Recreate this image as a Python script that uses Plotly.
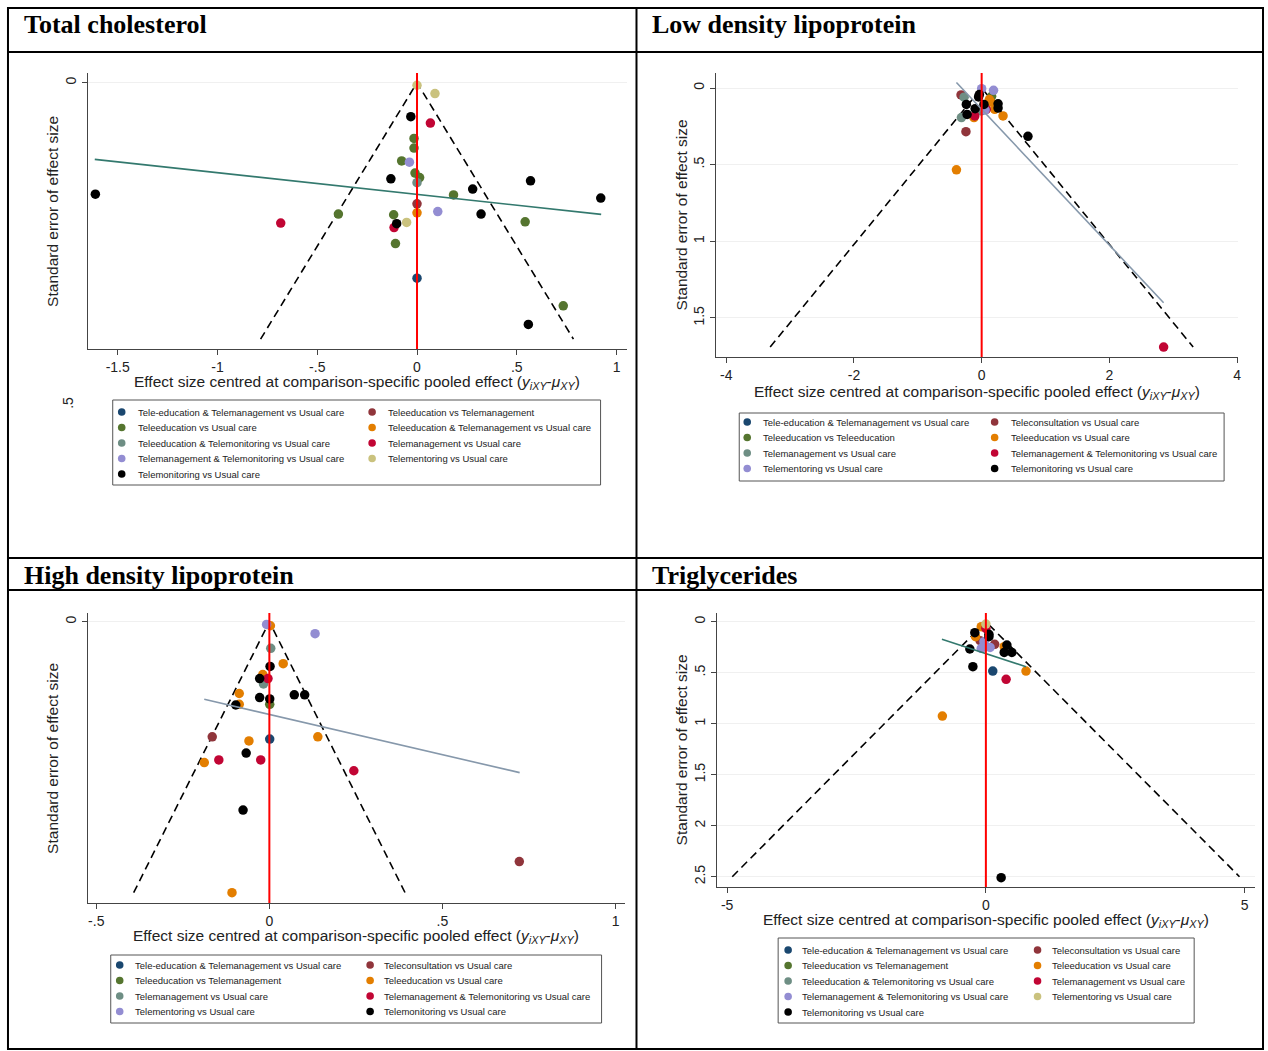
import plotly.graph_objects as go

W, H = 1268, 1051

# ---------------- DATA ----------------
panel_titles = ["Total cholesterol", "Low density lipoprotein",
                "High density lipoprotein", "Triglycerides"]

# Total cholesterol
tc_groups = ["Tele-education & Telemanagement vs Usual care", "Teleeducation vs Telemanagement",
             "Teleeducation vs Usual care", "Teleeducation & Telemanagement vs Usual care",
             "Teleeducation & Telemonitoring vs Usual care", "Telemanagement vs Usual care",
             "Telemanagement & Telemonitoring vs Usual care", "Telementoring vs Usual care",
             "Telemonitoring vs Usual care"]
tc_x = [0.0, 0.090, -0.031, 0.067, -0.015, -0.015, -0.077, -0.038, -0.010, 0.013, -0.131, 0.0,
        0.569, 0.279, 0.183, -1.612, 0.921, 0.0, -0.394, -0.117, 0.0, 0.104, 0.321, -0.683,
        -0.052, -0.102, -0.115, 0.542, -0.108, 0.0, 0.733, 0.558]
tc_se = [0.004, 0.017, 0.053, 0.063, 0.087, 0.102, 0.122, 0.124, 0.141, 0.148, 0.150, 0.156,
         0.153, 0.166, 0.175, 0.174, 0.180, 0.189, 0.205, 0.206, 0.203, 0.201, 0.205, 0.219,
         0.218, 0.220, 0.226, 0.217, 0.251, 0.305, 0.348, 0.377]
tc_g = [7, 7, 8, 5, 2, 2, 2, 6, 2, 2, 8, 4,
        8, 8, 2, 8, 8, 1, 2, 2, 3, 6, 8, 5,
        7, 8, 5, 2, 2, 0, 2, 8]
tc_reg_x = [-1.615, 0.923]
tc_reg_se = [0.1196, 0.2054]
tc_funnel_se = 0.40

# Low density lipoprotein
ldl_groups = ["Tele-education & Telemanagement vs Usual care", "Teleconsultation vs Usual care",
              "Teleeducation vs Teleeducation", "Teleeducation vs Usual care",
              "Telemanagement vs Usual care", "Telemanagement & Telemonitoring vs Usual care",
              "Telementoring vs Usual care", "Telemonitoring vs Usual care"]
ldl_x = [0.0, 0.186, -0.323, -0.275, 0.156, -0.036, -0.048, 0.120, 0.144, -0.240, 0.036, 0.257,
         0.257, -0.102, -0.006, 0.054, 0.072, 0.204, -0.228, -0.108, -0.120, -0.317, 0.335,
         -0.246, 0.725, -0.395, 2.850]
ldl_se = [0.004, 0.015, 0.045, 0.060, 0.054, 0.043, 0.058, 0.075, 0.092, 0.107, 0.107, 0.103,
          0.131, 0.135, 0.150, 0.144, 0.139, 0.139, 0.172, 0.182, 0.193, 0.193, 0.182,
          0.285, 0.315, 0.534, 1.690]
ldl_g = [6, 6, 1, 4, 2, 7, 7, 3, 3, 7, 7, 7,
         7, 7, 4, 6, 5, 3, 7, 5, 3, 4, 3,
         1, 7, 3, 5]
ldl_reg_x = [-0.395, 2.85]
ldl_reg_se = [-0.036, 1.401]
ldl_funnel_se = 1.69

# High density lipoprotein
hdl_groups = ["Tele-education & Telemanagement vs Usual care", "Teleconsultation vs Usual care",
              "Teleeducation vs Telemanagement", "Teleeducation vs Usual care",
              "Telemanagement vs Usual care", "Telemanagement & Telemonitoring vs Usual care",
              "Telementoring vs Usual care", "Telemonitoring vs Usual care"]
hdl_x = [-0.008, 0.003, 0.132, 0.004, 0.040, 0.002, -0.019, -0.028, -0.004, -0.017, -0.087, 0.072,
         0.102, -0.028, 0.001, 0.001, -0.087, -0.097, -0.165, 0.140, 0.001, -0.059, -0.067,
         -0.188, -0.146, -0.025, 0.244, -0.076, 0.722, -0.108]
hdl_se = [0.002, 0.003, 0.0089, 0.0197, 0.031, 0.033, 0.039, 0.042, 0.042, 0.046, 0.053, 0.054,
          0.054, 0.056, 0.057, 0.061, 0.061, 0.0615, 0.085, 0.085, 0.0866, 0.088, 0.097,
          0.104, 0.102, 0.102, 0.110, 0.139, 0.177, 0.200]
hdl_g = [6, 3, 6, 4, 3, 7, 3, 7, 5, 4, 3, 7,
         7, 7, 7, 2, 3, 7, 1, 3, 0, 3, 7,
         3, 5, 5, 5, 7, 1, 3]
hdl_reg_x = [-0.188, 0.723]
hdl_reg_se = [0.0573, 0.1114]
hdl_funnel_se = 0.20

# Triglycerides
tg_groups = ["Tele-education & Telemanagement vs Usual care", "Teleconsultation vs Usual care",
             "Teleeducation vs Telemanagement", "Teleeducation vs Usual care",
             "Teleeducation & Telemonitoring vs Usual care", "Telemanagement vs Usual care",
             "Telemanagement & Telemonitoring vs Usual care", "Telementoring vs Usual care",
             "Telemonitoring vs Usual care"]
tg_x = [0.0, -0.089, 0.0, -0.214, -0.199, 0.059, 0.059, -0.111, -0.037, 0.170, 0.354, 0.406,
        -0.089, 0.081, 0.0, -0.310, 0.354, 0.502, -0.251, 0.133, 0.775, 0.391, -0.841, 0.295]
tg_se = [0.023, 0.049, 0.065, 0.108, 0.147, 0.124, 0.147, 0.186, 0.196, 0.222, 0.245, 0.229,
         0.261, 0.252, 0.245, 0.268, 0.301, 0.301, 0.441, 0.484, 0.484, 0.565, 0.925, 2.510]
tg_g = [7, 3, 5, 8, 3, 8, 8, 1, 6, 1, 3, 8,
        6, 6, 2, 8, 8, 8, 8, 0, 3, 5, 3, 8]
tg_reg_x = [-0.849, 0.775]
tg_reg_se = [0.173, 0.441]
tg_funnel_se = 2.50

# tick labels
tc_xticks = [-1.5, -1, -0.5, 0, 0.5, 1]
tc_xlabels = ["-1.5", "-1", "-.5", "0", ".5", "1"]
tc_yticks = [0]
tc_ylabels = ["0"]
ldl_xticks = [-4, -2, 0, 2, 4]
ldl_xlabels = ["-4", "-2", "0", "2", "4"]
ldl_yticks = [0, 0.5, 1, 1.5]
ldl_ylabels = ["0", ".5", "1", "1.5"]
hdl_xticks = [-0.5, 0, 0.5, 1]
hdl_xlabels = ["-.5", "0", ".5", "1"]
hdl_yticks = [0]
hdl_ylabels = ["0"]
tg_xticks = [-5, 0, 5]
tg_xlabels = ["-5", "0", "5"]
tg_yticks = [0, 0.5, 1, 1.5, 2, 2.5]
tg_ylabels = ["0", ".5", "1", "1.5", "2", "2.5"]

# ---------------- STYLE ----------------
NAVY, MAROON, GREEN, ORANGE = "#1a476f", "#90353b", "#55752f", "#e37e00"
TEAL, CRAN, LAV, KHAKI, BLACK = "#6e8e84", "#c10534", "#938dd2", "#cac27e", "#000000"
tc_colors = [NAVY, MAROON, GREEN, ORANGE, TEAL, CRAN, LAV, KHAKI, BLACK]
ldl_colors = [NAVY, MAROON, GREEN, ORANGE, TEAL, CRAN, LAV, BLACK]
hdl_colors = ldl_colors
tg_colors = tc_colors

SANS = "Liberation Sans, Arial, sans-serif"
SERIF = "Liberation Serif, Times New Roman, serif"
TXT = "#222222"


def px(x):
    return x / W


def py(y):
    return 1 - y / H


panels = [
    dict(x=tc_x, se=tc_se, g=tc_g, groups=tc_groups, colors=tc_colors,
         reg_x=tc_reg_x, reg_se=tc_reg_se, fse=tc_funnel_se, regcol="#33796e",
         xdom=(88, 628), ydom=(73, 349), xr=(-1.65, 1.05), yr=(-0.0151, 0.4154),
         xt=(tc_xticks, tc_xlabels), yt=(tc_yticks, tc_ylabels),
         xtitle_y=382, ytitle_x=52,
         leg_box=(113, 400, 602, 485), leg_rows0=412, leg_cols=(122, 136, 373, 387)),
    dict(x=ldl_x, se=ldl_se, g=ldl_g, groups=ldl_groups, colors=ldl_colors,
         reg_x=ldl_reg_x, reg_se=ldl_reg_se, fse=ldl_funnel_se, regcol="#8698ab",
         xdom=(717.5, 1241), ydom=(73, 357), xr=(-4.164, 4.016), yr=(-0.098, 1.755),
         xt=(ldl_xticks, ldl_xlabels), yt=(ldl_yticks, ldl_ylabels),
         xtitle_y=393, ytitle_x=683,
         leg_box=(741, 413, 1227, 481), leg_rows0=422, leg_cols=(749, 763, 997, 1011)),
    dict(x=hdl_x, se=hdl_se, g=hdl_g, groups=hdl_groups, colors=hdl_colors,
         reg_x=hdl_reg_x, reg_se=hdl_reg_se, fse=hdl_funnel_se, regcol="#8698ab",
         xdom=(88, 626), ydom=(613, 903), xr=(-0.5245, 1.0259), yr=(-0.0064, 0.2076),
         xt=(hdl_xticks, hdl_xlabels), yt=(hdl_yticks, hdl_ylabels),
         xtitle_y=936, ytitle_x=52,
         leg_box=(111, 955, 603, 1023), leg_rows0=965, leg_cols=(120, 133, 371, 383)),
    dict(x=tg_x, se=tg_se, g=tg_g, groups=tg_groups, colors=tg_colors,
         reg_x=tg_reg_x, reg_se=tg_reg_se, fse=tg_funnel_se, regcol="#33796e",
         xdom=(718.6, 1258), ydom=(613, 887), xr=(-5.197, 5.2), yr=(-0.085, 2.601),
         xt=(tg_xticks, tg_xlabels), yt=(tg_yticks, tg_ylabels),
         xtitle_y=920, ytitle_x=683,
         leg_box=(780, 938, 1197, 1023), leg_rows0=950, leg_cols=(790, 802, 1040, 1052)),
]

fig = go.Figure()
layout = dict(width=W, height=H, margin=dict(l=0, r=0, t=0, b=0),
              paper_bgcolor="white", plot_bgcolor="white", showlegend=False)
shapes = []
annotations = []

xtitle = ("Effect size centred at comparison-specific pooled effect "
          "(<i>y</i><sub><i>iXY</i></sub>-<i>μ</i><sub><i>XY</i></sub>)")

for i, p in enumerate(panels):
    n = i + 1
    xa = "x" if n == 1 else f"x{n}"
    ya = "y" if n == 1 else f"y{n}"
    # funnel (pseudo 95% limits)
    f = p["fse"]
    fig.add_trace(go.Scatter(x=[-1.96 * f, 0, 1.96 * f], y=[f, 0, f], mode="lines",
                             line=dict(color="black", width=1.6, dash="8px,5px"),
                             xaxis=xa, yaxis=ya, hoverinfo="skip"))
    # points per group
    for gi, (gname, col) in enumerate(zip(p["groups"], p["colors"])):
        xs = [xv for xv, gv in zip(p["x"], p["g"]) if gv == gi]
        ys = [sv for sv, gv in zip(p["se"], p["g"]) if gv == gi]
        if not xs:
            continue
        fig.add_trace(go.Scatter(x=xs, y=ys, mode="markers", name=gname,
                                 marker=dict(color=col, size=9.5, line=dict(width=0)),
                                 xaxis=xa, yaxis=ya))
    # regression line
    fig.add_trace(go.Scatter(x=p["reg_x"], y=p["reg_se"], mode="lines",
                             line=dict(color=p["regcol"], width=1.6),
                             xaxis=xa, yaxis=ya, hoverinfo="skip"))
    # red zero line
    shapes.append(dict(type="line", xref=xa, yref=f"{ya} domain", x0=0, x1=0, y0=0, y1=1,
                       line=dict(color="#ff0000", width=2), layer="above"))

    x0, x1 = p["xdom"]
    y0, y1 = p["ydom"]
    axis_common = dict(showline=True, linecolor="#444", linewidth=1, ticks="outside",
                       ticklen=5, tickcolor="#444", zeroline=False,
                       tickfont=dict(family=SANS, size=14, color=TXT))
    layout["xaxis" if n == 1 else f"xaxis{n}"] = dict(
        domain=[px(x0), px(x1)], range=list(p["xr"]), anchor=ya, showgrid=False,
        tickmode="array", tickvals=p["xt"][0], ticktext=p["xt"][1], **axis_common)
    layout["yaxis" if n == 1 else f"yaxis{n}"] = dict(
        domain=[py(y1), py(y0)], range=[p["yr"][1], p["yr"][0]], anchor=xa,
        showgrid=True, gridcolor="#f0f0f0", gridwidth=1, tickangle=-90,
        tickmode="array", tickvals=p["yt"][0], ticktext=p["yt"][1], **axis_common)

    # axis titles
    annotations.append(dict(text=xtitle, x=px((x0 + x1) / 2), y=py(p["xtitle_y"]),
                            xref="paper", yref="paper", showarrow=False,
                            xanchor="center", yanchor="middle",
                            font=dict(family=SANS, size=15.5, color=TXT)))
    annotations.append(dict(text="Standard error of effect size", x=px(p["ytitle_x"]),
                            y=py((y0 + y1) / 2), xref="paper", yref="paper", showarrow=False,
                            textangle=-90, xanchor="center", yanchor="middle",
                            font=dict(family=SANS, size=15.5, color=TXT)))

    # legend box
    bx0, by0, bx1, by1 = p["leg_box"]
    shapes.append(dict(type="rect", xref="paper", yref="paper", x0=px(bx0), x1=px(bx1),
                       y0=py(by1), y1=py(by0), line=dict(color="#555", width=1)))
    mlx, tlx, mrx, trx = p["leg_cols"]
    for k, (gname, col) in enumerate(zip(p["groups"], p["colors"])):
        row, colno = divmod(k, 2)
        cy = p["leg_rows0"] + row * 15.5
        mx, tx = (mlx, tlx) if colno == 0 else (mrx, trx)
        r = 3.8
        shapes.append(dict(type="circle", xref="paper", yref="paper",
                           x0=px(mx - r), x1=px(mx + r), y0=py(cy + r), y1=py(cy - r),
                           fillcolor=col, line=dict(width=0)))
        annotations.append(dict(text=gname, x=px(tx), y=py(cy), xref="paper", yref="paper",
                                showarrow=False, xanchor="left", yanchor="middle",
                                font=dict(family=SANS, size=9.5, color=TXT)))

# stray ".5" tick label below the TC panel (as in the original export)
annotations.append(dict(text=".5", x=px(68), y=py(403), xref="paper", yref="paper",
                        showarrow=False, textangle=-90, xanchor="center", yanchor="middle",
                        font=dict(family=SANS, size=14, color=TXT)))

# table frame
border = dict(color="black", width=2)
shapes += [
    dict(type="rect", xref="paper", yref="paper", x0=px(8), x1=px(1266), y0=py(1049), y1=py(8),
         line=border),
    dict(type="line", xref="paper", yref="paper", x0=px(638), x1=px(638), y0=py(1049), y1=py(8),
         line=border),
    dict(type="line", xref="paper", yref="paper", x0=px(8), x1=px(1266), y0=py(52), y1=py(52),
         line=border),
    dict(type="line", xref="paper", yref="paper", x0=px(8), x1=px(1266), y0=py(558), y1=py(558),
         line=border),
    dict(type="line", xref="paper", yref="paper", x0=px(8), x1=px(1266), y0=py(590), y1=py(590),
         line=border),
]

# panel headers
header_pos = [(22, 25), (652, 25), (22, 575), (652, 575)]
for t, (hx, hy) in zip(panel_titles, header_pos):
    annotations.append(dict(text=f"<b>{t}</b>", x=px(hx), y=py(hy), xref="paper", yref="paper",
                            showarrow=False, xanchor="left", yanchor="middle",
                            font=dict(family=SERIF, size=26, color="black")))

layout["shapes"] = shapes
layout["annotations"] = annotations
fig.update_layout(**layout)
fig.write_html("out.html", config={"displayModeBar": False},
               post_script="document.body.style.margin='0';document.body.style.overflow='hidden';")
